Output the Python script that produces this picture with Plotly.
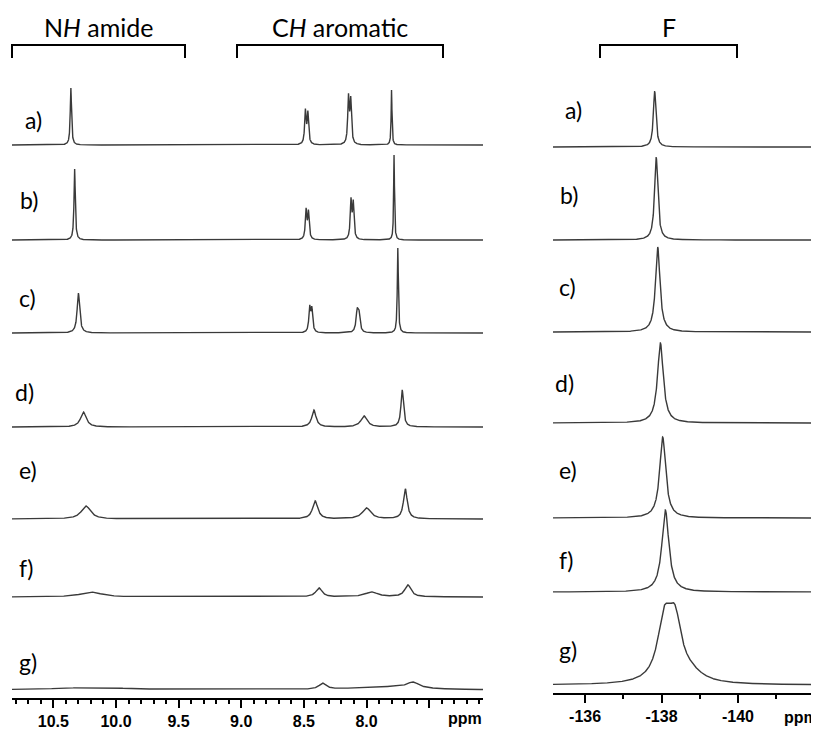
import numpy as np
import plotly.graph_objects as go

# sample labels (top to bottom)
labels = ["a)", "b)", "c)", "d)", "e)", "f)", "g)"]

# 1H NMR, amide NH signal: shift (ppm), height, half width (ppm)
nh_shift = [10.36, 10.33, 10.30, 10.26, 10.24, 10.20, 10.18]
nh_height = [57, 71, 40, 15, 13, 5, 2.5]
nh_width = [0.006, 0.006, 0.012, 0.027, 0.045, 0.1, 0.35]

# 1H NMR, aromatic CH signals (doublets split by ch_split)
ch1_shift = [8.478, 8.473, 8.445, 8.42, 8.41, 8.38, 8.35]
ch1_height = [33, 29, 24, 17, 18, 9, 6]
ch1_width = [0.007, 0.007, 0.008, 0.02, 0.025, 0.03, 0.035]
ch1_split = [0.02, 0.019, 0.017, 0, 0, 0, 0]

ch2_shift = [8.135, 8.115, 8.068, 8.02, 8.00, 7.96, 7.85]
ch2_height = [46, 38, 19, 11, 11, 5, 3]
ch2_width = [0.007, 0.007, 0.01, 0.03, 0.04, 0.06, 0.3]
ch2_split = [0.018, 0.018, 0.014, 0, 0, 0, 0]

ch3_shift = [7.80, 7.78, 7.75, 7.715, 7.69, 7.67, 7.63]
ch3_height = [55, 85, 85, 37, 30, 12, 6]
ch3_width = [0.004, 0.004, 0.005, 0.012, 0.018, 0.03, 0.06]

# 19F NMR
f_shift = [-137.82, -137.86, -137.90, -137.97, -138.03, -138.10]
f_height = [56, 83, 85, 80, 81, 82]
f_width = [0.04, 0.05, 0.07, 0.09, 0.095, 0.11]
# broad spectrum g) as overlapping lines
g_shift = [-138.07, -138.35, -138.75]
g_height = [57, 56, 8]
g_width = [0.21, 0.21, 0.4]

h_ticks = [10.5, 10.0, 9.5, 9.0, 8.5, 8.0, 7.5]
h_ticktext = ["10.5", "10.0", "9.5", "9.0", "8.5", "8.0", ""]
f_ticks = [-136, -138, -140, -142]
f_ticktext = ["-136", "-138", "-140", ""]

# the page body adds an 8 px margin, so the figure is drawn 8 px in
OFF = 8
W, H = 819 - OFF, 729 - OFF
ML, MT, AXY = 12, 60, 698          # in screen pixels
PW, PH = 819 - ML, AXY - MT


def px(x):
    return (x - ML) / PW


def py(y):
    return (AXY - y) / PH


def lor(x, c, h, w):
    return h / (1 + ((x - c) / w) ** 2)


left_base = [553, 458, 365, 271, 179, 101, 8]
right_base = [546, 453, 361, 270, 175, 101, 8]

xh = np.linspace(10.83, 7.07, 6000)
xf = np.linspace(-135.16, -142.12, 4000)

fig = go.Figure()
line = dict(color="#3a3a3a", width=1.4)

for i in range(7):
    y = lor(xh, nh_shift[i], nh_height[i], nh_width[i])
    for s, hh, ww, sp in [(ch1_shift, ch1_height, ch1_width, ch1_split),
                          (ch2_shift, ch2_height, ch2_width, ch2_split)]:
        if sp[i] > 0:
            y += lor(xh, s[i] + sp[i] / 2, hh[i], ww[i])
            y += lor(xh, s[i] - sp[i] / 2, hh[i] * 0.93, ww[i])
        else:
            y += lor(xh, s[i], hh[i], ww[i])
    y += lor(xh, ch3_shift[i], ch3_height[i], ch3_width[i])
    fig.add_trace(go.Scatter(x=xh, y=y + left_base[i], mode="lines",
                             line=line, xaxis="x", yaxis="y",
                             showlegend=False, hoverinfo="skip"))

    if i < 6:
        yf = lor(xf, f_shift[i], f_height[i], f_width[i])
    else:
        yf = sum(lor(xf, c, h, w) for c, h, w in zip(g_shift, g_height, g_width))
    fig.add_trace(go.Scatter(x=xf, y=yf + right_base[i], mode="lines",
                             line=line, xaxis="x2", yaxis="y2",
                             showlegend=False, hoverinfo="skip"))

tickfont = dict(family="Liberation Sans", size=16, color="black", weight="bold")
axis_common = dict(
    showline=True, linecolor="black", linewidth=1.5,
    ticks="outside", ticklen=8, tickwidth=1.5, tickcolor="black",
    showgrid=False, zeroline=False, tickfont=tickfont, tickmode="array",
)

fig.update_layout(
    width=W, height=H,
    margin=dict(l=ML - OFF, r=0, t=MT - OFF, b=729 - AXY),
    plot_bgcolor="white", paper_bgcolor="white",
    xaxis=dict(domain=[0, px(483)], range=[10.83, 7.07], anchor="y",
               tickvals=h_ticks, ticktext=h_ticktext,
               minor=dict(ticks="outside", ticklen=4, tickcolor="black",
                          tickmode="linear", tick0=0, dtick=0.1),
               **axis_common),
    xaxis2=dict(domain=[px(553), 1], range=[-135.16, -142.12], anchor="y2",
                tickvals=f_ticks, ticktext=f_ticktext,
                minor=dict(ticks="outside", ticklen=4, tickcolor="black",
                           tickmode="linear", tick0=0, dtick=1),
                **axis_common),
    yaxis=dict(domain=[0, 1], range=[0, PH], visible=False, anchor="x"),
    yaxis2=dict(domain=[py(693), 1], range=[0, 693 - MT], visible=False,
                anchor="x2"),
)

lab_font = dict(family="Lato", size=23, color="black")
left_lab = [(23, 120), (18, 200), (17, 298), (13, 392), (17, 470), (17, 568), (17, 662)]
right_lab = [(563, 110), (558, 195), (557, 287), (553, 383), (557, 470), (557, 560), (557, 650)]
for i, lab in enumerate(labels):
    for (x, y) in (left_lab[i], right_lab[i]):
        fig.add_annotation(x=px(x), y=py(y), xref="paper", yref="paper",
                           text=lab, showarrow=False, xanchor="left",
                           yanchor="middle", font=lab_font)

# brackets with group titles
groups = [("N<i>H</i> amide", 12, 185), ("C<i>H</i> aromatic", 237, 443), ("F", 600, 737)]
for text, x0, x1 in groups:
    fig.add_shape(type="path", xref="paper", yref="paper",
                  path=f"M {px(x0)},{py(58)} L {px(x0)},{py(45)} "
                       f"L {px(x1)},{py(45)} L {px(x1)},{py(58)}",
                  line=dict(color="black", width=2))
    fig.add_annotation(x=px((x0 + x1) / 2), y=py(27), xref="paper", yref="paper",
                       text=text, showarrow=False, xanchor="center",
                       yanchor="middle",
                       font=dict(family="Lato", size=25, color="black"))

for x, y in [(465, 718), (801, 717)]:
    fig.add_annotation(x=px(x), y=py(y), xref="paper", yref="paper",
                       text="ppm", showarrow=False, xanchor="center",
                       yanchor="middle", font=tickfont)

fig.write_html("out.html")
